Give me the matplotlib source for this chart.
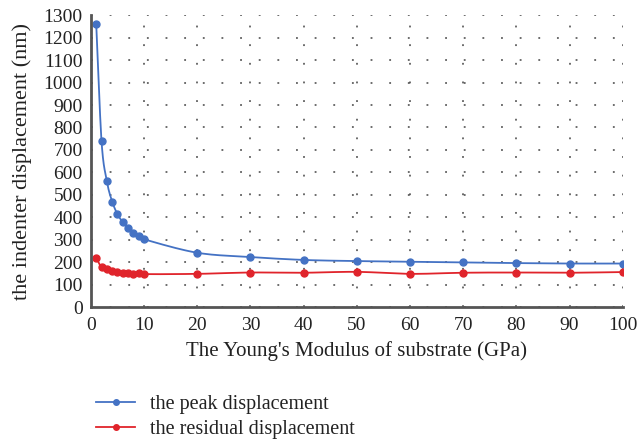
import numpy as np
import matplotlib.pyplot as plt

plt.rcParams['font.family'] = ['Liberation Serif', 'DejaVu Serif']

# Young's modulus of substrate (GPa)
modulus = [1, 2, 3, 4, 5, 6, 7, 8, 9, 10, 20, 30, 40, 50, 60, 70, 80, 90, 100]
# displacements (nm)
peak = [1263, 740, 561, 470, 414, 378, 352, 331, 316, 302,
        242, 223, 210, 205, 202, 199, 196, 194, 194]
residual = [220, 177, 169, 162, 157, 154, 153, 148, 153, 147,
            148, 154, 153, 157, 148, 153, 154, 153, 156]

blue = '#4472C4'
red = '#E0242B'


def smooth(x, y, n=20):
    # catmull-rom curve through the points, like a "smoothed line" chart
    x = np.asarray(x, float)
    y = np.asarray(y, float)
    px = np.concatenate([[2 * x[0] - x[1]], x, [2 * x[-1] - x[-2]]])
    py = np.concatenate([[2 * y[0] - y[1]], y, [2 * y[-1] - y[-2]]])
    xs, ys = [], []
    t = np.linspace(0, 1, n)
    for i in range(1, len(px) - 2):
        for p, out in ((px, xs), (py, ys)):
            p0, p1, p2, p3 = p[i - 1], p[i], p[i + 1], p[i + 2]
            out.extend(0.5 * (2 * p1 + (-p0 + p2) * t
                              + (2 * p0 - 5 * p1 + 4 * p2 - p3) * t ** 2
                              + (-p0 + 3 * p1 - 3 * p2 + p3) * t ** 3))
    return xs, ys


fig = plt.figure(figsize=(6.4, 4.47), dpi=100)
ax = fig.add_axes([0.142, 0.313, 0.831, 0.653])

for y, c, lab in ((peak, blue, 'the peak displacement'),
                  (residual, red, 'the residual displacement')):
    sx, sy = smooth(modulus, y)
    ax.plot(sx, sy, color=c, lw=1.3)
    ax.plot(modulus, y, 'o', color=c, ms=5)
    ax.plot([], [], '-o', color=c, lw=1.3, ms=4, label=lab)

ax.set_xlim(0, 100)
ax.set_ylim(0, 1300)
ax.set_xticks(range(0, 101, 10))
ax.set_yticks(range(0, 1301, 100))
ax.tick_params(length=0, labelsize=14, colors='#222222')
ax.tick_params(axis='y', pad=6)
ax.tick_params(axis='x', pad=7)
ax.grid(True, color='#444444', linestyle=(0, (1.2, 11)), lw=1.1)

for s in ('top', 'right'):
    ax.spines[s].set_visible(False)
for s in ('left', 'bottom'):
    ax.spines[s].set_color('#555555')
    ax.spines[s].set_linewidth(2)

ax.set_xlabel("The Young's Modulus of substrate (GPa)", fontsize=15,
              color='#222222', labelpad=5)
ax.set_ylabel('the indenter displacement (nm)', fontsize=16,
              color='#222222', labelpad=8)

fig.legend(loc='upper left', bbox_to_anchor=(0.135, 0.14), frameon=False,
           fontsize=14.5, handlelength=1.9, handletextpad=0.75,
           labelspacing=0.3, borderpad=0, labelcolor='#222222')

fig.savefig('out.png', dpi=100)
